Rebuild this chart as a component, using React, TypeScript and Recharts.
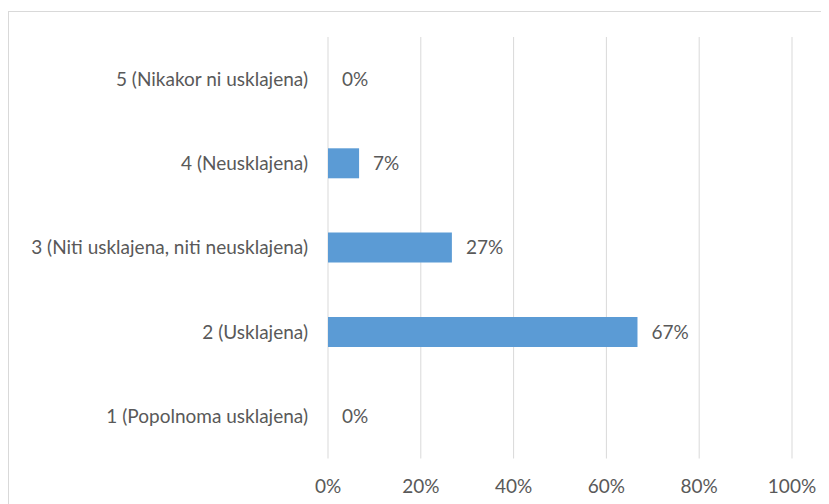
import React from "react";
import { BarChart, Bar, XAxis, YAxis, CartesianGrid, LabelList } from "recharts";

const categories = [
  "5 (Nikakor ni usklajena)",
  "4 (Neusklajena)",
  "3 (Niti usklajena, niti neusklajena)",
  "2 (Usklajena)",
  "1 (Popolnoma usklajena)",
];
const shares = [0, 6.7, 26.7, 66.7, 0]; // percent of answers
const xTicks = [0, 20, 40, 60, 80, 100];

const data = categories.map((name, i) => ({ name, value: shares[i] }));

const FONT = "Lato, 'Noto Sans', sans-serif";
const TEXT = "#595959";
const FS = 19;

export default function App() {
  return (
    <div
      style={{
        marginTop: 3,
        width: 818,
        height: 500,
        border: "1px solid #d9d9d9",
        background: "#fff",
        fontFamily: FONT,
      }}
    >
      <BarChart
        width={818}
        height={492}
        data={data}
        layout="vertical"
        margin={{ top: 25, right: 35, left: 0, bottom: 0 }}
      >
        <CartesianGrid horizontal={false} stroke="#d9d9d9" />
        <XAxis
          type="number"
          domain={[0, 100]}
          ticks={xTicks}
          tickFormatter={(v) => `${v}%`}
          axisLine={false}
          tickLine={false}
          tickSize={0}
          tickMargin={21}
          height={45.5}
          tick={{ fill: TEXT, fontSize: FS, fontFamily: FONT }}
        />
        <YAxis
          type="category"
          dataKey="name"
          width={319}
          axisLine={false}
          tickLine={false}
          tickSize={0}
          tickMargin={20}
          tick={{ fill: TEXT, fontSize: FS, fontFamily: FONT }}
        />
        <Bar
          dataKey="value"
          fill="#5b9bd5"
          barSize={30}
          minPointSize={0.01}
          isAnimationActive={false}
        >
          <LabelList
            dataKey="value"
            position="right"
            offset={14}
            formatter={(v: number) => `${Math.round(v)}%`}
            style={{ fill: TEXT, fontSize: FS, fontFamily: FONT }}
          />
        </Bar>
      </BarChart>
    </div>
  );
}
